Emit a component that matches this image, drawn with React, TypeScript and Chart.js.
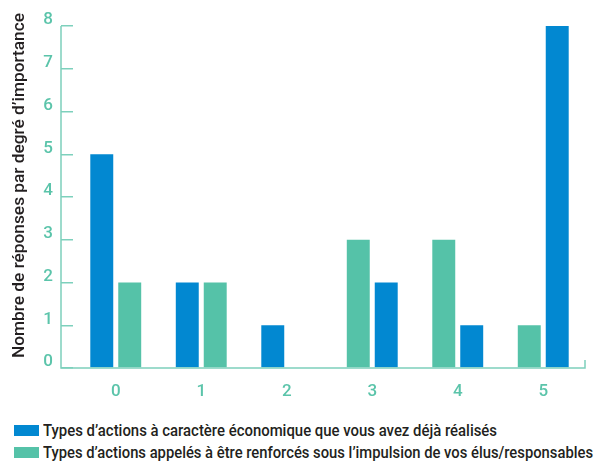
import React, { useEffect, useRef } from 'react';
import { Chart, registerables } from 'chart.js';

Chart.register(...registerables);

const categories = ['0', '1', '2', '3', '4', '5'];
const dejaRealises = [5, 2, 1, 2, 1, 8];
const aRenforcer = [2, 2, 0, 3, 3, 1];
// which series occupies the left slot of each category group
const blueOnLeft = [true, true, true, false, false, false];
const yTickValues = [0, 1, 2, 3, 4, 5, 6, 7, 8];
const seriesLabels = [
  'Types d’actions à caractère économique que vous avez déjà réalisés',
  'Types d’actions appelés à être renforcés sous l’impulsion de vos élus/responsables',
];
const legendWidths = [454, 550];
const yTitle = 'Nombre de réponses par degré d’importance';

const BLUE = '#0288D1';
const GREEN = '#55C2A8';
const TEAL_TEXT = '#5BC4AA';
const AXIS = '#7DD0BC';
const FONT = "Roboto, 'Noto Sans', sans-serif";

function measure(text: string, font: string): number {
  const c = document.createElement('canvas');
  const cx = c.getContext('2d')!;
  cx.font = font;
  return cx.measureText(text).width;
}

const axisPlugin = {
  id: 'customAxes',
  afterDraw(chart: any) {
    const { ctx, chartArea } = chart;
    const yScale = chart.scales.y;
    const top = yScale.getPixelForValue(8);
    const bottom = yScale.getPixelForValue(0);
    const axisX = chartArea.left - 12;
    ctx.save();
    ctx.strokeStyle = AXIS;
    ctx.lineWidth = 1.5;
    ctx.beginPath();
    ctx.moveTo(axisX, top);
    ctx.lineTo(axisX, bottom);
    ctx.lineTo(chartArea.right - 1, bottom);
    ctx.lineTo(chartArea.right - 1, bottom - 8);
    ctx.stroke();
    // axis title
    const font = `500 16px ${FONT}`;
    const w = ctx.measureText ? measure(yTitle, font) : 345;
    ctx.translate(20, 185.5);
    ctx.rotate(-Math.PI / 2);
    ctx.scale(345 / w, 1);
    ctx.fillStyle = '#231F20';
    ctx.font = font;
    ctx.textAlign = 'center';
    ctx.textBaseline = 'middle';
    ctx.fillText(yTitle, 0, 0);
    ctx.restore();
  },
};

export default function App() {
  const canvasRef = useRef<HTMLCanvasElement | null>(null);

  useEffect(() => {
    if (!canvasRef.current) return;
    const leftData = categories.map((_, i) => (blueOnLeft[i] ? dejaRealises[i] : aRenforcer[i]));
    const rightData = categories.map((_, i) => (blueOnLeft[i] ? aRenforcer[i] : dejaRealises[i]));
    const leftColors = blueOnLeft.map((b) => (b ? BLUE : GREEN));
    const rightColors = blueOnLeft.map((b) => (b ? GREEN : BLUE));

    const chart = new Chart(canvasRef.current, {
      type: 'bar',
      data: {
        labels: categories,
        datasets: [
          {
            label: 'left',
            data: leftData,
            backgroundColor: leftColors,
            categoryPercentage: 0.654,
            barPercentage: 0.821,
          },
          {
            label: 'right',
            data: rightData,
            backgroundColor: rightColors,
            categoryPercentage: 0.654,
            barPercentage: 0.821,
          },
        ],
      },
      options: {
        animation: false,
        responsive: false,
        layout: { padding: { top: 26, right: 23, bottom: 0, left: 0 } },
        plugins: {
          legend: { display: false },
          tooltip: { enabled: false },
          title: { display: false },
        },
        scales: {
          x: {
            grid: { display: false },
            border: { display: false },
            ticks: {
              color: TEAL_TEXT,
              font: { family: FONT, size: 17, weight: '500' },
              padding: 6,
            },
            afterFit: (scale: any) => {
              scale.height = 47;
            },
          },
          y: {
            min: 0,
            max: 8,
            afterBuildTicks: (scale: any) => {
              scale.ticks = yTickValues.map((v) => ({ value: v }));
            },
            grid: {
              drawOnChartArea: false,
              drawTicks: true,
              tickLength: 12,
              color: AXIS,
              lineWidth: 1.5,
            },
            border: { display: false },
            ticks: {
              color: TEAL_TEXT,
              font: { family: FONT, size: 17, weight: '500' },
              padding: 8,
              labelOffset: -6,
            },
            afterFit: (scale: any) => {
              scale.width = 73;
            },
          },
        },
      },
      plugins: [axisPlugin],
    });
    return () => chart.destroy();
  }, []);

  const legendColors = [BLUE, GREEN];
  const legendFont = `500 16px ${FONT}`;

  return (
    <div style={{ position: 'fixed', left: 0, top: 0, width: 609, height: 462, background: '#fff' }}>
      <canvas ref={canvasRef} width={609} height={415} style={{ display: 'block', width: 609, height: 415 }} />
      {seriesLabels.map((lab, i) => {
        const k = legendWidths[i] / measure(lab, legendFont);
        return (
          <div
            key={i}
            style={{
              position: 'absolute',
              left: 14,
              top: 420 + i * 21.5,
              height: 21,
              display: 'flex',
              alignItems: 'center',
              whiteSpace: 'nowrap',
            }}
          >
            <span style={{ display: 'inline-block', width: 25, height: 11, background: legendColors[i], marginRight: 4 }} />
            <span
              style={{
                display: 'inline-block',
                fontFamily: FONT,
                fontWeight: 500,
                fontSize: 16,
                color: '#231F20',
                transform: `scaleX(${k})`,
                transformOrigin: 'left center',
              }}
            >
              {lab}
            </span>
          </div>
        );
      })}
    </div>
  );
}
